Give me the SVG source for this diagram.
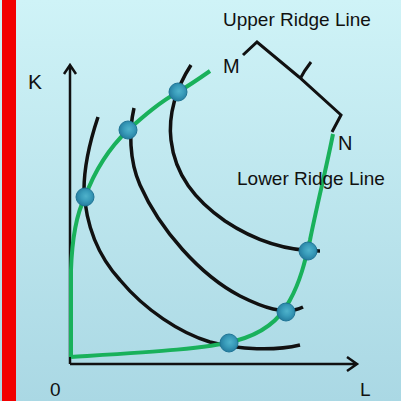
<svg xmlns="http://www.w3.org/2000/svg" width="401" height="401" viewBox="0 0 401 401">
<defs>
<linearGradient id="bg" x1="0" y1="0" x2="0" y2="1">
<stop offset="0" stop-color="#cff3f7"/>
<stop offset="1" stop-color="#aad8e4"/>
</linearGradient>
<radialGradient id="dotg" cx="0.55" cy="0.45" r="0.6">
<stop offset="0" stop-color="#4fb2cb"/>
<stop offset="0.45" stop-color="#3a9dbb"/>
<stop offset="1" stop-color="#22789b"/>
</radialGradient>
<style>
.axis{fill:none;stroke:#111;stroke-width:2.5}
.iso{fill:none;stroke:#111;stroke-width:3.5;stroke-linecap:butt}
.ridge{fill:none;stroke:#19b15b;stroke-width:4;stroke-linejoin:round}
.dot{fill:url(#dotg);stroke:#1f7596;stroke-width:1}
.brk{fill:none;stroke:#111;stroke-width:3;stroke-linejoin:miter}
text{font-family:"Liberation Sans",Arial,sans-serif;fill:#111}
</style>
</defs>
<rect x="0" y="0" width="401" height="401" fill="url(#bg)"/>
<rect x="2" y="0" width="14" height="401" fill="#f20000"/>
<g id="axes">
<path class="axis" d="M70,364 L70,66 M64,74 L70,65 L76,74"/>
<path class="axis" d="M70,364 L356,364 M347,357 L357,364 L347,371"/>
</g>
<g id="isoquants">
<path class="iso" d="M98,117 C92,135 84,165 84,190 C86,228 100,258 120,280 C145,310 180,333 210,342 C240,350 275,351 300,345"/>
<path class="iso" d="M134,108 C129,130 129,160 140,185 C160,230 200,275 240,296 C262,307 285,316 303,307"/>
<path class="iso" d="M191,65 C176,88 168,115 171,140 C175,175 195,200 225,221 C255,241 285,251 320,251"/>
</g>
<g id="ridges">
<path class="ridge" d="M71,357 L71,270 C72,240 76,215 85,197 C92,178 105,152 128,130 C145,115 160,102 178,92 C190,85 200,78 210,71"/>
<path class="ridge" d="M71,357 C150,352 205,349 235,341 C262,334 280,320 290,300 C300,282 305,262 310,240 C317,205 327,165 333,134"/>
</g>
<g id="dots">
<circle class="dot" cx="85" cy="197" r="9"/>
<circle class="dot" cx="128" cy="130" r="9"/>
<circle class="dot" cx="178" cy="92" r="9"/>
<circle class="dot" cx="229" cy="343" r="9"/>
<circle class="dot" cx="286" cy="312" r="9"/>
<circle class="dot" cx="308" cy="251" r="9"/>
</g>
<g id="bracket">
<path class="brk" d="M243,55 L257,42 L299,77 L341,115 L332,132"/>
<path class="brk" d="M300,79 Q304,71 311,62"/>
</g>
<g id="labels">
<text x="223" y="26" font-size="19">Upper Ridge Line</text>
<text x="237" y="185" font-size="19">Lower Ridge Line</text>
<text x="223" y="73" font-size="20">M</text>
<text x="338" y="150" font-size="20">N</text>
<text x="28" y="89" font-size="21">K</text>
<text x="50" y="396" font-size="19">0</text>
<text x="360" y="396" font-size="19">L</text>
</g>
</svg>
